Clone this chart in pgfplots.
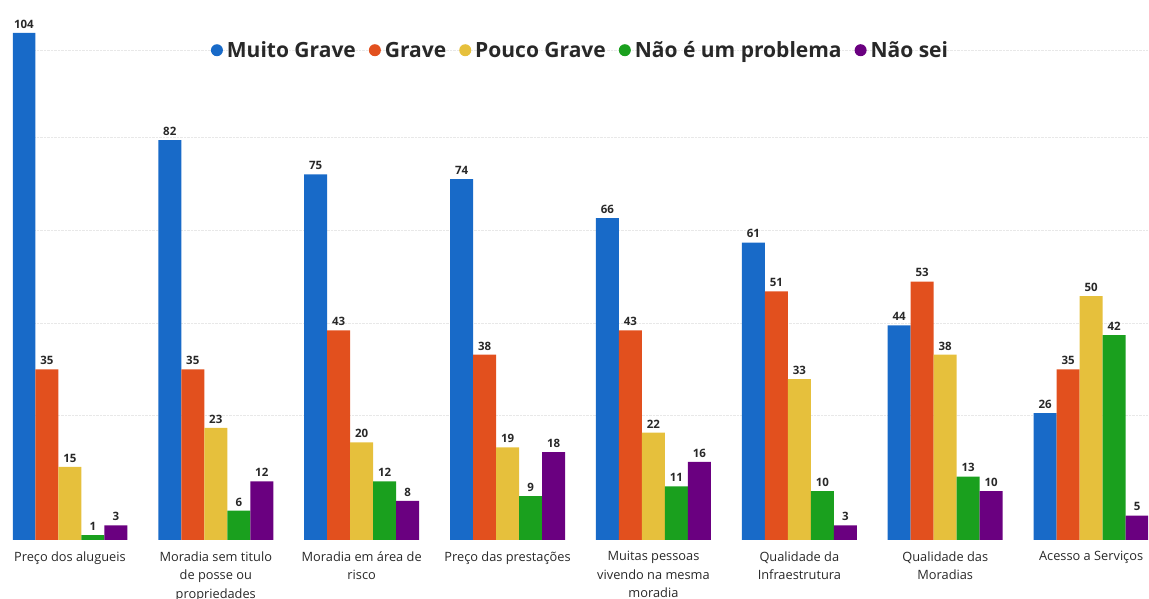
\documentclass[border=0pt]{standalone}
\usepackage{pgfplots}
\pgfplotsset{compat=1.18}
\usepackage{fontspec}
\setmainfont{Open Sans}
\definecolor{cBlue}{RGB}{24,106,200}
\definecolor{cOrange}{RGB}{226,80,30}
\definecolor{cYellow}{RGB}{230,192,60}
\definecolor{cGreen}{RGB}{26,160,30}
\definecolor{cPurple}{RGB}{106,0,128}
\definecolor{cText}{RGB}{40,40,40}
\begin{document}
\begin{tikzpicture}
\begin{axis}[
  at={(13pt,59pt)}, anchor=south west,
  scale only axis, width=1135pt, height=540pt,
  xmin=-0.39, xmax=7.39, ymin=0, ymax=110.77,
  axis line style={draw=none},
  ybar=0pt, bar width=23pt,
  xtick={0,...,7},
  xticklabels={{Preço dos alugueis}, {Moradia sem titulo\\de posse ou\\propriedades}, {Moradia em área de\\risco}, {Preço das prestações}, {Muitas pessoas\\vivendo na mesma\\moradia}, {Qualidade da\\Infraestrutura}, {Qualidade das\\Moradias}, {Acesso a Serviços}},
  xticklabel style={font=\fontsize{12.8}{18.5}\selectfont, text=cText, align=center, yshift=-8pt},
  major tick length=0pt,
  ytick={25.6,44.5,63.6,82.5,100.5},
  yticklabels={},
  ymajorgrids, grid style={densely dotted, gray!18, line width=0.8pt},
  /pgf/number format/assume math mode=true,
  nodes near coords,
  every node near coord/.append style={font=\bfseries\fontsize{11.5}{13}\selectfont, text=cText, yshift=1pt},
  legend style={at={(0.5,0.907)}, anchor=center, draw=none, fill=none,
    font=\bfseries\fontsize{21}{24}\selectfont, text=cText,
    legend columns=-1, column sep=2pt,
    /tikz/every even column/.append style={column sep=11pt}},
  legend image code/.code={\fill[#1] (5pt,0pt) circle (6pt);},
]
\addplot[fill=cBlue, draw=none] coordinates {(0,104) (1,82) (2,75) (3,74) (4,66) (5,61) (6,44) (7,26)};
\addplot[fill=cOrange, draw=none] coordinates {(0,35) (1,35) (2,43) (3,38) (4,43) (5,51) (6,53) (7,35)};
\addplot[fill=cYellow, draw=none] coordinates {(0,15) (1,23) (2,20) (3,19) (4,22) (5,33) (6,38) (7,50)};
\addplot[fill=cGreen, draw=none] coordinates {(0,1) (1,6) (2,12) (3,9) (4,11) (5,10) (6,13) (7,42)};
\addplot[fill=cPurple, draw=none] coordinates {(0,3) (1,12) (2,8) (3,18) (4,16) (5,3) (6,10) (7,5)};
\legend{Muito Grave, Grave, Pouco Grave, Não é um problema, Não sei}
\end{axis}
\pgfresetboundingbox
\path (0,0) rectangle (1149pt,599pt);
\end{tikzpicture}
\end{document}
